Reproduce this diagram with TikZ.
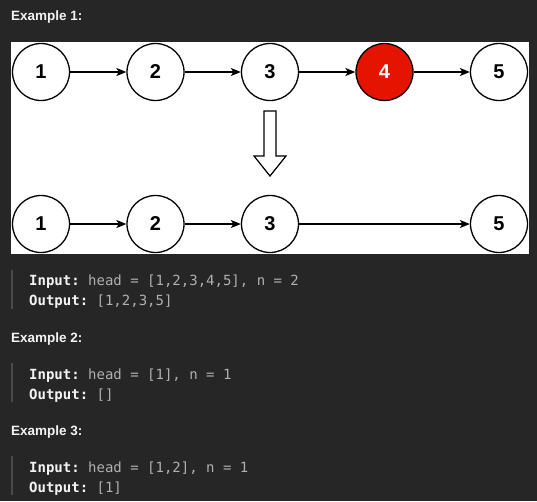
\documentclass[tikz,border=0pt]{standalone}
\usepackage{fontspec}
\setmainfont{Liberation Sans}
\setmonofont{DejaVu Sans Mono}
\usetikzlibrary{arrows.meta}
\definecolor{bgdark}{HTML}{262626}
\definecolor{nodered}{HTML}{E51400}
\definecolor{codegrey}{HTML}{B0B0B0}
\definecolor{quotebar}{HTML}{4A4A4A}
\definecolor{headwhite}{HTML}{F2F3F5}
\tikzset{
  listnode/.style={circle, draw=black, line width=1.3pt, fill=white, minimum size=57pt, inner sep=0pt,
    font=\fontsize{20}{20}\selectfont\bfseries},
  rednode/.style={listnode, fill=nodered, text=white},
  link/.style={draw=black, line width=1.3pt, -{Stealth[length=10pt,width=8pt,inset=2.5pt]}},
  heading/.style={anchor=base west, inner sep=0pt, text=headwhite, font=\fontsize{13.5}{13.5}\selectfont\bfseries},
  codeline/.style={anchor=base west, inner sep=0pt, text=codegrey, font=\fontsize{14}{14}\selectfont\ttfamily},
  bar/.style={fill=quotebar, draw=none}
}
\newcommand{\kw}[1]{\textcolor{headwhite}{\bfseries #1}}
\begin{document}
\begin{tikzpicture}[x=1pt,y=-1pt]
\fill[bgdark] (0,0) rectangle (537,501);
\useasboundingbox (0,0) rectangle (537,501);
\fill[white] (11,42) rectangle (529,254);

\node[heading] (ex1) at (11,20.5) {Example 1:};

% top list
\node[listnode] (a1) at (41,72) {1};
\node[listnode] (a2) at (155.5,72) {2};
\node[listnode] (a3) at (270,72) {3};
\node[rednode]  (a4) at (384.5,72) {4};
\node[listnode] (a5) at (499,72) {5};
\draw[link] (a1) -- (a2);
\draw[link] (a2) -- (a3);
\draw[link] (a3) -- (a4);
\draw[link] (a4) -- (a5);

% hollow down arrow
\draw[line width=1.2pt, line join=miter, fill=white]
  (264,111) -- (276,111) -- (276,156) -- (286,156) -- (270,176) -- (254,156) -- (264,156) -- cycle;

% bottom list
\node[listnode] (b1) at (41,224) {1};
\node[listnode] (b2) at (155.5,224) {2};
\node[listnode] (b3) at (270,224) {3};
\node[listnode] (b5) at (499,224) {5};
\draw[link] (b1) -- (b2);
\draw[link] (b2) -- (b3);
\draw[link] (b3) -- (b5);

% example 1 text
\fill[bar] (11,270) rectangle (13,309);
\node[codeline] (in1) at (29,285.5) {\kw{Input:} head = [1,2,3,4,5], n = 2};
\node[codeline] (out1) at (29,305.5) {\kw{Output:} [1,2,3,5]};

\node[heading] (ex2) at (11,342) {Example 2:};
\fill[bar] (11,363) rectangle (13,402);
\node[codeline] (in2) at (29,379) {\kw{Input:} head = [1], n = 1};
\node[codeline] (out2) at (29,399) {\kw{Output:} []};

\node[heading] (ex3) at (11,435) {Example 3:};
\fill[bar] (11,456) rectangle (13,495);
\node[codeline] (in3) at (29,472) {\kw{Input:} head = [1,2], n = 1};
\node[codeline] (out3) at (29,492) {\kw{Output:} [1]};
\end{tikzpicture}
\end{document}
